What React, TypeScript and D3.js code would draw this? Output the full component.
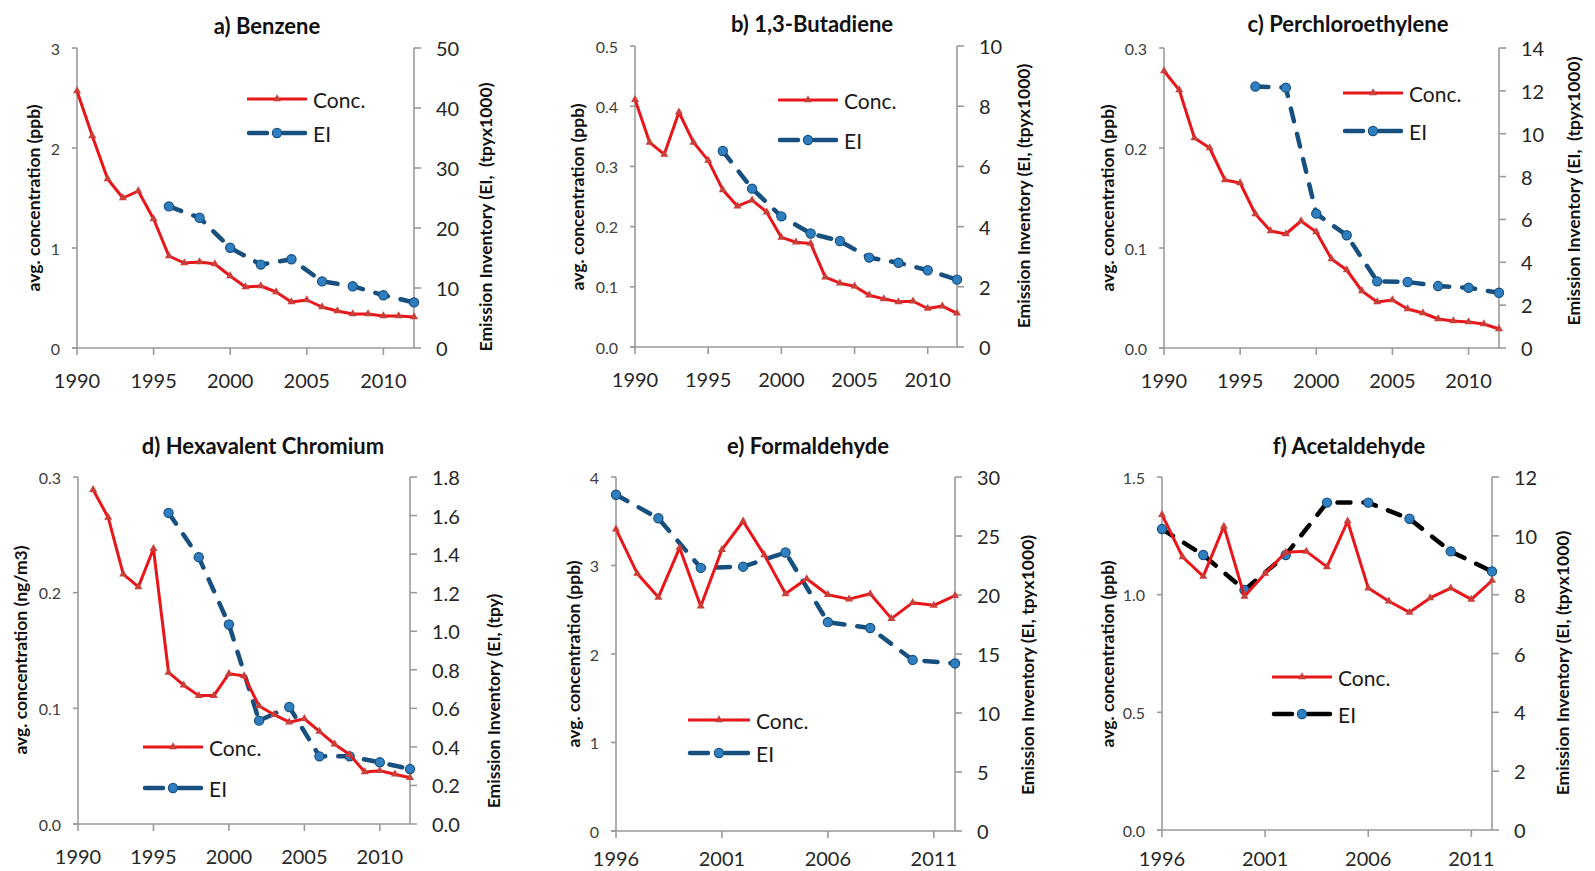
import React from "react";
import * as d3 from "d3";

// years
const concYears = [1990, 1991, 1992, 1993, 1994, 1995, 1996, 1997, 1998, 1999, 2000, 2001, 2002, 2003, 2004, 2005, 2006, 2007, 2008, 2009, 2010, 2011, 2012];
const chromYears = [1991, 1992, 1993, 1994, 1995, 1996, 1997, 1998, 1999, 2000, 2001, 2002, 2003, 2004, 2005, 2006, 2007, 2008, 2009, 2010, 2011, 2012];
const lateYears = [1996, 1997, 1998, 1999, 2000, 2001, 2002, 2003, 2004, 2005, 2006, 2007, 2008, 2009, 2010, 2011, 2012];
const eiYears = [1996, 1998, 2000, 2002, 2004, 2006, 2008, 2010, 2012];

// a) Benzene
const benzeneConc = [2.57, 2.12, 1.69, 1.5, 1.57, 1.29, 0.92, 0.85, 0.86, 0.84, 0.72, 0.61, 0.62, 0.56, 0.46, 0.48, 0.41, 0.37, 0.34, 0.34, 0.32, 0.32, 0.31];
const benzeneEI = [23.6, 21.7, 16.7, 13.9, 14.8, 11.1, 10.3, 8.8, 7.6];
// b) 1,3-Butadiene
const butadieneConc = [0.411, 0.34, 0.32, 0.39, 0.34, 0.31, 0.261, 0.234, 0.244, 0.224, 0.182, 0.174, 0.172, 0.116, 0.106, 0.101, 0.086, 0.08, 0.075, 0.076, 0.064, 0.068, 0.056];
const butadieneEI = [6.51, 5.26, 4.34, 3.77, 3.52, 2.97, 2.8, 2.55, 2.24];
// c) Perchloroethylene
const percConc = [0.277, 0.258, 0.21, 0.2, 0.168, 0.165, 0.134, 0.117, 0.114, 0.127, 0.116, 0.089, 0.078, 0.057, 0.046, 0.048, 0.039, 0.035, 0.029, 0.027, 0.026, 0.024, 0.019];
const percEI = [12.2, 12.15, 6.27, 5.26, 3.11, 3.08, 2.89, 2.81, 2.58];
// d) Hexavalent Chromium
const chromConc = [0.289, 0.265, 0.216, 0.205, 0.238, 0.131, 0.12, 0.111, 0.111, 0.13, 0.128, 0.102, 0.0945, 0.088, 0.091, 0.08, 0.069, 0.06, 0.045, 0.046, 0.043, 0.04];
const chromEI = [1.614, 1.384, 1.035, 0.536, 0.607, 0.351, 0.351, 0.32, 0.285];
// e) Formaldehyde
const formConc = [3.41, 2.91, 2.64, 3.2, 2.54, 3.18, 3.5, 3.12, 2.68, 2.85, 2.67, 2.62, 2.68, 2.4, 2.58, 2.55, 2.66];
const formEI = [28.5, 26.5, 22.3, 22.4, 23.6, 17.7, 17.2, 14.5, 14.2];
// f) Acetaldehyde
const acetConc = [1.34, 1.16, 1.078, 1.29, 0.993, 1.09, 1.18, 1.184, 1.118, 1.312, 1.028, 0.972, 0.925, 0.986, 1.028, 0.98, 1.06];
const acetEI = [10.23, 9.35, 8.16, 9.35, 11.13, 11.13, 10.58, 9.47, 8.79];

// tick labels
const xTicksLong = [1990, 1995, 2000, 2005, 2010];
const xTicksShort = [1996, 2001, 2006, 2011];

const FONT = "Lato, 'Open Sans', sans-serif";
const RED = "#e8161b";
const BLUE = "#17507f";
const AXIS = "#9a9a9a";

type Panel = {
  title: string;
  left: number; right: number; top: number; bottom: number;
  xDomain: [number, number]; xTicks: number[];
  yL: [number, number]; yLStep: number; yLFmt: string;
  yR: [number, number]; yRStep: number; yRFmt: string;
  concX: number[]; conc: number[]; ei: number[];
  leftLabel: string; leftLabelPos: [number, number];
  rightLabel: string; rightLabelPos: [number, number];
  titlePos: [number, number];
  legend: { x1: number; x2: number; y1: number; y2: number };
  eiColor: string;
};

const panels: Panel[] = [
  {
    title: "a) Benzene", left: 77, right: 414, top: 48, bottom: 348,
    xDomain: [1990, 2012], xTicks: xTicksLong,
    yL: [0, 3], yLStep: 1, yLFmt: "d", yR: [0, 50], yRStep: 10, yRFmt: "d",
    concX: concYears, conc: benzeneConc, ei: benzeneEI,
    leftLabel: "avg. concentration (ppb)", leftLabelPos: [33, 198],
    rightLabel: "Emission Inventory (EI,  (tpyx1000)", rightLabelPos: [485, 217],
    titlePos: [267, 25], legend: { x1: 247, x2: 307, y1: 99, y2: 133 }, eiColor: BLUE,
  },
  {
    title: "b) 1,3-Butadiene", left: 635, right: 957, top: 46, bottom: 347,
    xDomain: [1990, 2012], xTicks: xTicksLong,
    yL: [0, 0.5], yLStep: 0.1, yLFmt: ".1f", yR: [0, 10], yRStep: 2, yRFmt: "d",
    concX: concYears, conc: butadieneConc, ei: butadieneEI,
    leftLabel: "avg. concentration (ppb)", leftLabelPos: [577, 197],
    rightLabel: "Emission Inventory (EI, (tpyx1000)", rightLabelPos: [1023, 196],
    titlePos: [812, 23], legend: { x1: 778, x2: 838, y1: 100, y2: 140 }, eiColor: BLUE,
  },
  {
    title: "c) Perchloroethylene", left: 1164, right: 1499, top: 48, bottom: 348,
    xDomain: [1990, 2012], xTicks: xTicksLong,
    yL: [0, 0.3], yLStep: 0.1, yLFmt: ".1f", yR: [0, 14], yRStep: 2, yRFmt: "d",
    concX: concYears, conc: percConc, ei: percEI,
    leftLabel: "avg. concentration (ppb)", leftLabelPos: [1107, 198],
    rightLabel: "Emission Inventory (EI,  (tpyx1000)", rightLabelPos: [1573, 191],
    titlePos: [1348, 23], legend: { x1: 1343, x2: 1403, y1: 93, y2: 131 }, eiColor: BLUE,
  },
  {
    title: "d) Hexavalent Chromium", left: 78, right: 410, top: 477, bottom: 824,
    xDomain: [1990, 2012], xTicks: xTicksLong,
    yL: [0, 0.3], yLStep: 0.1, yLFmt: ".1f", yR: [0, 1.8], yRStep: 0.2, yRFmt: ".1f",
    concX: chromYears, conc: chromConc, ei: chromEI,
    leftLabel: "avg. concentration (ng/m3)", leftLabelPos: [20, 650],
    rightLabel: "Emission Inventory (EI, (tpy)", rightLabelPos: [493, 701],
    titlePos: [263, 445], legend: { x1: 143, x2: 203, y1: 747, y2: 788 }, eiColor: BLUE,
  },
  {
    title: "e) Formaldehyde", left: 616, right: 955, top: 477, bottom: 831,
    xDomain: [1996, 2012], xTicks: xTicksShort,
    yL: [0, 4], yLStep: 1, yLFmt: "d", yR: [0, 30], yRStep: 5, yRFmt: "d",
    concX: lateYears, conc: formConc, ei: formEI,
    leftLabel: "avg. concentration (ppb)", leftLabelPos: [573, 654],
    rightLabel: "Emission Inventory (EI, tpyx1000)", rightLabelPos: [1027, 665],
    titlePos: [808, 445], legend: { x1: 688, x2: 750, y1: 720, y2: 753 }, eiColor: BLUE,
  },
  {
    title: "f) Acetaldehyde", left: 1162, right: 1492, top: 477, bottom: 830,
    xDomain: [1996, 2012], xTicks: xTicksShort,
    yL: [0, 1.5], yLStep: 0.5, yLFmt: ".1f", yR: [0, 12], yRStep: 2, yRFmt: "d",
    concX: lateYears, conc: acetConc, ei: acetEI,
    leftLabel: "avg. concentration (ppb)", leftLabelPos: [1107, 654],
    rightLabel: "Emission Inventory (EI, (tpyx1000)", rightLabelPos: [1562, 663],
    titlePos: [1349, 445], legend: { x1: 1272, x2: 1332, y1: 677, y2: 714 }, eiColor: "#000000",
  },
];

const tri = d3.symbol().type(d3.symbolTriangle).size(28)();

function stepTicks(domain: [number, number], step: number) {
  const out: number[] = [];
  const n = Math.round((domain[1] - domain[0]) / step);
  for (let i = 0; i <= n; i++) out.push(domain[0] + i * step);
  return out;
}

function ChartPanel({ p }: { p: Panel }) {
  const x = d3.scaleLinear().domain(p.xDomain).range([p.left, p.right]);
  const yL = d3.scaleLinear().domain(p.yL).range([p.bottom, p.top]);
  const yR = d3.scaleLinear().domain(p.yR).range([p.bottom, p.top]);
  const fL = d3.format(p.yLFmt);
  const fR = d3.format(p.yRFmt);

  const concLine = d3.line<number>().x((d, i) => x(p.concX[i])).y((d) => yL(d));
  const eiLine = d3.line<number>().x((d, i) => x(eiYears[i])).y((d) => yR(d));

  const lg = p.legend;
  const lmid = (lg.x1 + lg.x2) / 2;
  // keep the bottom row of year labels inside the picture
  const xLabelY = Math.min(p.bottom + 32, 858);

  return (
    <g fontFamily={FONT}>
      <text x={p.titlePos[0]} y={p.titlePos[1]} textAnchor="middle" dominantBaseline="central" fontWeight="bold" fontSize={22} fill="#111">
        {p.title}
      </text>

      {/* axes */}
      <g stroke={AXIS} strokeWidth={1.6} fill="none">
        <line x1={p.left} x2={p.left} y1={p.top} y2={p.bottom} />
        <line x1={p.right} x2={p.right} y1={p.top} y2={p.bottom} />
        <line x1={p.left - 5} x2={p.right} y1={p.bottom} y2={p.bottom} />
        {stepTicks(p.yL, p.yLStep).map((t) => (
          <line key={"l" + t} x1={p.left - 5} x2={p.left} y1={yL(t)} y2={yL(t)} />
        ))}
        {stepTicks(p.yR, p.yRStep).map((t) => (
          <line key={"r" + t} x1={p.right} x2={p.right + 7} y1={yR(t)} y2={yR(t)} />
        ))}
        {p.xTicks.map((t) => (
          <line key={"x" + t} x1={x(t)} x2={x(t)} y1={p.bottom} y2={p.bottom + 7} />
        ))}
      </g>

      {stepTicks(p.yL, p.yLStep).map((t) => (
        <text key={"lt" + t} x={p.left - 17} y={yL(t)} textAnchor="end" dominantBaseline="central" fontSize={16} fill="#404040">
          {fL(t)}
        </text>
      ))}
      {stepTicks(p.yR, p.yRStep).map((t) => (
        <text key={"rt" + t} x={p.right + 22} y={yR(t)} textAnchor="start" dominantBaseline="central" fontSize={20} fill="#262626">
          {fR(t)}
        </text>
      ))}
      {p.xTicks.map((t) => (
        <text key={"xt" + t} x={x(t)} y={xLabelY} textAnchor="middle" dominantBaseline="central" fontSize={20} fill="#262626">
          {t}
        </text>
      ))}

      <text transform={`translate(${p.leftLabelPos[0]},${p.leftLabelPos[1]}) rotate(-90)`} textAnchor="middle" dominantBaseline="central" fontWeight="bold" fontSize={17.5} fill="#111">
        {p.leftLabel}
      </text>
      <text transform={`translate(${p.rightLabelPos[0]},${p.rightLabelPos[1]}) rotate(-90)`} textAnchor="middle" dominantBaseline="central" fontWeight="bold" fontSize={17.5} fill="#111" style={{ whiteSpace: "pre" }}>
        {p.rightLabel}
      </text>

      {/* EI series */}
      <path d={eiLine(p.ei) || ""} fill="none" stroke={p.eiColor} strokeWidth={4.5} strokeDasharray="13 13" strokeLinecap="round" strokeLinejoin="round" />
      {p.ei.map((d, i) => (
        <circle key={"ei" + i} cx={x(eiYears[i])} cy={yR(d)} r={4.6} fill="#2f7fc0" stroke={BLUE} strokeWidth={1.2} />
      ))}

      {/* Conc series */}
      <path d={concLine(p.conc) || ""} fill="none" stroke={RED} strokeWidth={3} strokeLinejoin="round" />
      {p.conc.map((d, i) => (
        <path key={"c" + i} d={tri || ""} transform={`translate(${x(p.concX[i])},${yL(d)})`} fill="#c9403a" />
      ))}

      {/* legend */}
      <line x1={lg.x1} x2={lg.x2} y1={lg.y1} y2={lg.y1} stroke={RED} strokeWidth={3} />
      <path d={tri || ""} transform={`translate(${lmid},${lg.y1})`} fill="#c9403a" />
      <text x={lg.x2 + 6} y={lg.y1} dominantBaseline="central" fontSize={21} fill="#1a1a1a">Conc.</text>
      <line x1={lg.x1 + 2} x2={lg.x1 + 20} y1={lg.y2} y2={lg.y2} stroke={p.eiColor} strokeWidth={4.5} strokeLinecap="round" />
      <line x1={lmid + 6} x2={lg.x2 - 2} y1={lg.y2} y2={lg.y2} stroke={p.eiColor} strokeWidth={4.5} strokeLinecap="round" />
      <circle cx={lmid} cy={lg.y2} r={4.6} fill="#2f7fc0" stroke={BLUE} strokeWidth={1.2} />
      <text x={lg.x2 + 6} y={lg.y2} dominantBaseline="central" fontSize={21} fill="#1a1a1a">EI</text>
    </g>
  );
}

export default function App() {
  return (
    <svg width={1595} height={871} style={{ position: "absolute", left: 0, top: 0, background: "#fff" }}>
      <rect width={1595} height={871} fill="#fff" />
      {panels.map((p) => (
        <ChartPanel key={p.title} p={p} />
      ))}
    </svg>
  );
}
